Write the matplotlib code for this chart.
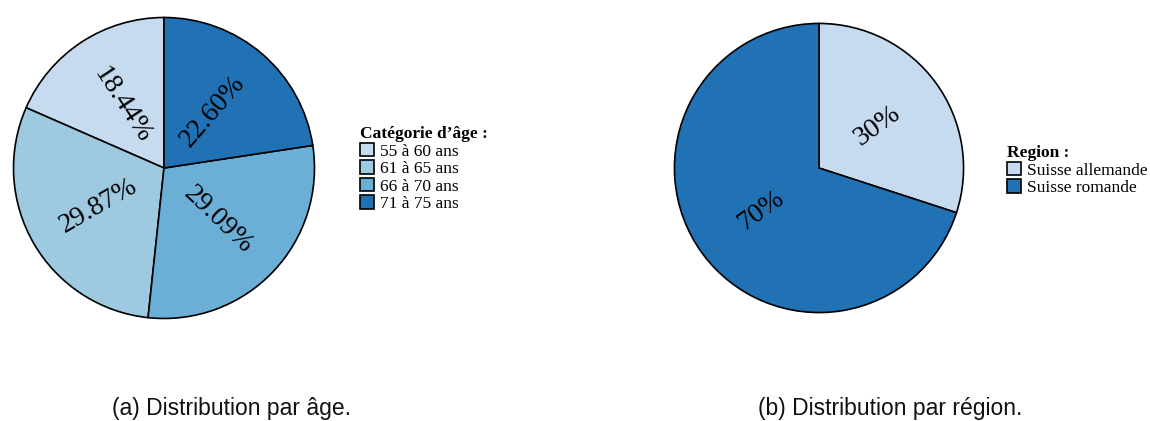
"""Two pies: age and region distribution, with captions."""

import math

import matplotlib

matplotlib.use("Agg")
import matplotlib.pyplot as plt  # noqa: E402

W, H = 1150, 421

AGE_LABELS = ["55 à 60 ans", "61 à 65 ans", "66 à 70 ans", "71 à 75 ans"]
AGE_VALUES = [18.44, 29.87, 29.09, 22.60]
AGE_TEXT = ["18.44%", "29.87%", "29.09%", "22.60%"]
AGE_COLORS = ["#c6dbef", "#9ecae1", "#6baed6", "#2171b5"]

REGION_LABELS = ["Suisse allemande", "Suisse romande"]
REGION_VALUES = [30, 70]
REGION_TEXT = ["30%", "70%"]
REGION_COLORS = ["#c6dbef", "#2171b5"]

SERIF = "Liberation Serif"
SANS = "Liberation Sans"


def pie_axes(fig, cx, cy, r):
    """Axes box in pixel coords so the unit pie has centre (cx, cy) and radius r."""
    return fig.add_axes([(cx - r) / W, (H - cy - r) / H, 2 * r / W, 2 * r / H])


def draw_pie(ax, values, texts, colors, counterclock):
    wedges, _ = ax.pie(
        values, colors=colors, startangle=90, counterclock=counterclock,
        wedgeprops=dict(edgecolor="black", linewidth=1.2),
    )
    # radial percentage labels, halfway out
    for w, t in zip(wedges, texts):
        mid = ((w.theta1 + w.theta2) / 2) % 360
        rot = mid - 180 if 90 < mid < 270 else mid
        x = 0.5 * math.cos(math.radians(mid))
        y = 0.5 * math.sin(math.radians(mid))
        ax.text(x, y, t, rotation=rot, rotation_mode="anchor", ha="center",
                va="center", fontsize=20, family=SERIF, color="black")
    ax.set_xlim(-1.01, 1.01)
    ax.set_ylim(-1.01, 1.01)
    ax.set_aspect("auto")
    ax.axis("off")
    return wedges


fig = plt.figure(figsize=(W / 100, H / 100), dpi=100)

ax1 = pie_axes(fig, 164, 168, 152)
w1 = draw_pie(ax1, AGE_VALUES, AGE_TEXT, AGE_COLORS, counterclock=True)

ax2 = pie_axes(fig, 819, 168, 146)
w2 = draw_pie(ax2, REGION_VALUES, REGION_TEXT, REGION_COLORS, counterclock=False)

leg_kw = dict(
    loc="upper left", frameon=False, borderpad=0, borderaxespad=0,
    handlelength=0.8, handleheight=0.8, handletextpad=0.35,
    labelspacing=0.05, prop={"family": SERIF, "size": 12.5},
    title_fontproperties={"family": SERIF, "size": 12.5, "weight": "bold"},
    alignment="left",
)
fig.legend(w1, AGE_LABELS, title="Catégorie d’âge :",
           bbox_to_anchor=(360 / W, 1 - 126 / H), **leg_kw)
fig.legend(w2, REGION_LABELS, title="Region :",
           bbox_to_anchor=(1007 / W, 1 - 145 / H), **leg_kw)

fig.text(232 / W, 1 - 408 / H, "(a) Distribution par âge.", ha="center",
         va="center", fontsize=16.5, family=SANS, color="#111111")
fig.text(890 / W, 1 - 408 / H, "(b) Distribution par région.", ha="center",
         va="center", fontsize=16.5, family=SANS, color="#111111")

fig.savefig("out.png", dpi=100, facecolor="white")
plt.close(fig)
